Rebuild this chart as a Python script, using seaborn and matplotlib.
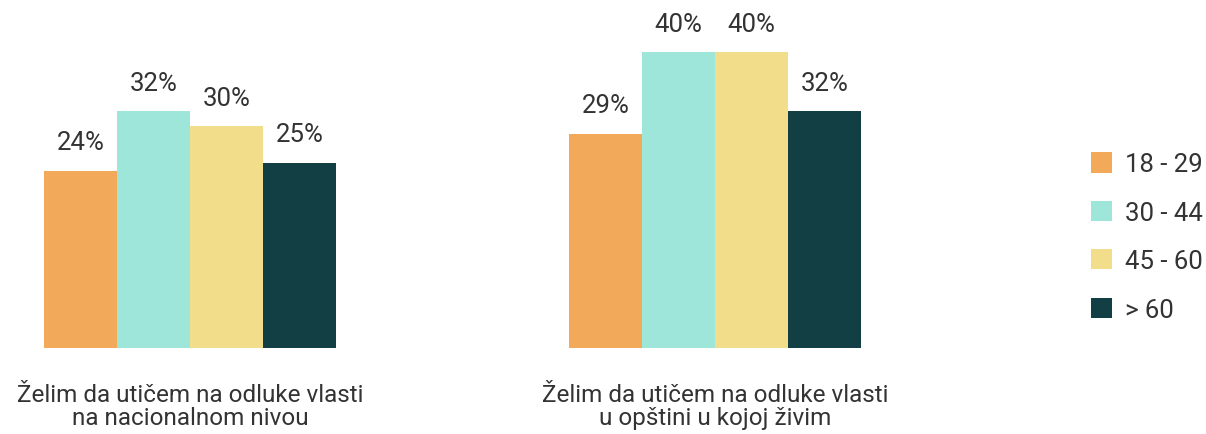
import pandas as pd
import matplotlib.pyplot as plt
import seaborn as sns

# Data
questions = ['Želim da utičem na odluke vlasti\nna nacionalnom nivou',
             'Želim da utičem na odluke vlasti\nu opštini u kojoj živim']
ages = ['18 - 29', '30 - 44', '45 - 60', '> 60']
national = [24, 32, 30, 25]
local = [29, 40, 40, 32]
colors = ['#F3A95A', '#9EE6DA', '#F2DE8A', '#123F44']

rows = []
for i, a in enumerate(ages):
    rows.append({'question': questions[0], 'age': a, 'value': national[i]})
    rows.append({'question': questions[1], 'age': a, 'value': local[i]})
df = pd.DataFrame(rows)

sns.set_style('white')
plt.rcParams['font.family'] = ['Roboto', 'DejaVu Sans']
text_col = '#333333'

fig = plt.figure(figsize=(12.06, 4.35), dpi=100)
ax = fig.add_axes([0, 86 / 435, 960 / 1206, 349 / 435])

sns.barplot(data=df, x='question', y='value', hue='age', order=questions,
            hue_order=ages, palette=colors, saturation=1, width=0.556,
            gap=0, linewidth=0, ax=ax)

ax.set_xlim(-190 / 525, -190 / 525 + 960 / 525)
ax.set_ylim(0, 47.2)

# Percent labels
for cont in ax.containers:
    ax.bar_label(cont, labels=[f'{int(v)}%' for v in cont.datavalues],
                 padding=12, fontsize=18.5, color=text_col)

ax.set_xlabel('')
ax.set_ylabel('')
ax.set_yticks([])
ax.tick_params(axis='x', length=0, pad=25, labelsize=17.5, labelcolor=text_col)
for t in ax.get_xticklabels():
    t.set_linespacing(1.0)
sns.despine(ax=ax, left=True, bottom=True)

# Legend
handles, labels = ax.get_legend_handles_labels()
ax.legend_.remove()
fig.legend(handles, labels, loc='center left',
           bbox_to_anchor=(1091 / 1206, 1 - 238 / 435),
           bbox_transform=fig.transFigure, frameon=False, borderpad=0,
           borderaxespad=0, fontsize=18.5, handlelength=0.83,
           handleheight=0.83, handletextpad=0.5, labelspacing=0.95,
           labelcolor=text_col)

fig.savefig('out.png', dpi=100)
